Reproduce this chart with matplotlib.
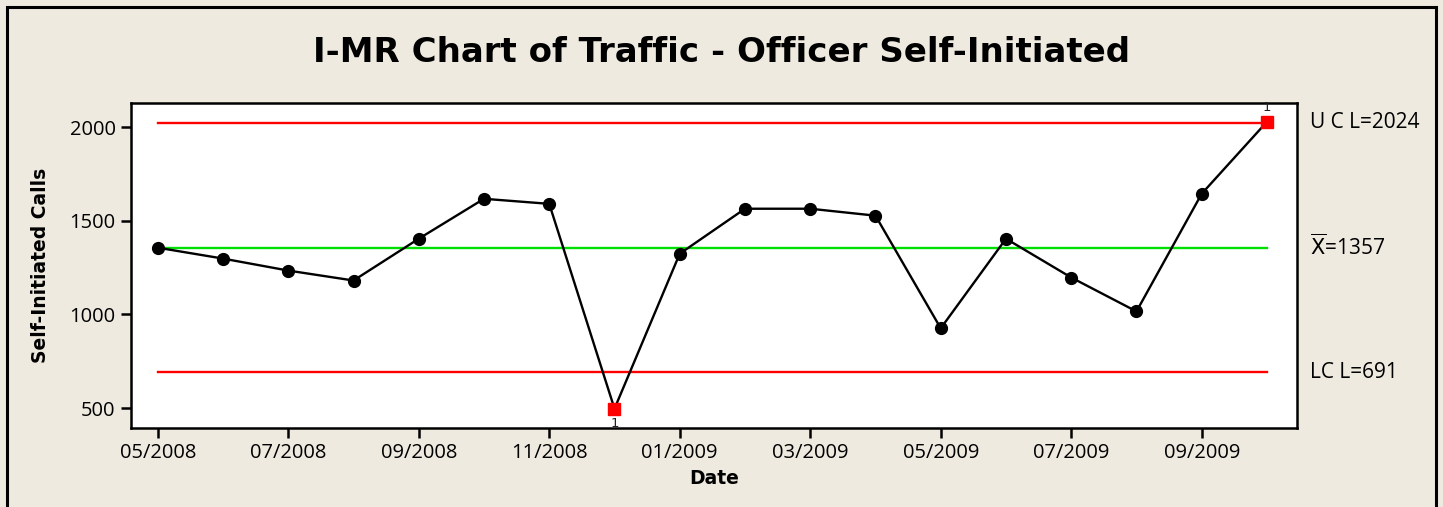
import numpy as np
import matplotlib.pyplot as plt
from matplotlib.patches import Rectangle

# monthly values, 05/2008 .. 10/2009
valores = [1356, 1298, 1234, 1181, 1404, 1617, 1590, 497, 1324, 1564,
           1564, 1527, 926, 1404, 1197, 1016, 1644, 2028]
etiquetas_x = ['05/2008', '07/2008', '09/2008', '11/2008', '01/2009',
               '03/2009', '05/2009', '07/2009', '09/2009']
media = 1357
ucl = 2024
lcl = 691

fondo = '#EEEAE0'
plt.rcParams['font.family'] = ['Open Sans', 'DejaVu Sans']

fig = plt.figure(figsize=(14.43, 5.07), dpi=100, facecolor=fondo)
ax = fig.add_axes([0.0908, 0.1558, 0.808, 0.641])
ax.set_facecolor('white')

n = len(valores)
x = np.arange(n)
y = np.array(valores)

ax.plot([0, n - 1], [ucl, ucl], color='#FF0000', lw=1.7, zorder=1)
ax.plot([0, n - 1], [lcl, lcl], color='#FF0000', lw=1.7, zorder=1)
ax.plot([0, n - 1], [media, media], color='#00E000', lw=1.7, zorder=1)

ax.plot(x, y, color='black', lw=1.7, zorder=2)
fuera = (y > ucl) | (y < lcl)
ax.plot(x[~fuera], y[~fuera], 'o', color='black', ms=8.5, zorder=3)
ax.plot(x[fuera], y[fuera], 's', color='#FF0000', ms=8, zorder=3)
for xi, yi in zip(x[fuera], y[fuera]):
    if yi > ucl:
        ax.text(xi, yi + 40, '1', ha='center', va='bottom', fontsize=9.5,
                color='#222222', family='DejaVu Sans', zorder=5, clip_on=False)
    else:
        ax.text(xi, yi - 45, '1', ha='center', va='top', fontsize=9.5,
                color='#222222', family='DejaVu Sans', zorder=5, clip_on=False)

ax.set_xlim(-0.41, 17.46)
ax.set_ylim(394, 2128)
ax.set_xticks(np.arange(0, n, 2))
ax.set_xticklabels(etiquetas_x)
ax.set_yticks([500, 1000, 1500, 2000])
ax.tick_params(axis='both', direction='out', length=7, width=1.8, labelsize=14.5, pad=4)
for s in ax.spines.values():
    s.set_linewidth(1.8)

ax.set_xlabel('Date', fontsize=13.5, fontweight='bold', family='DejaVu Sans', labelpad=4)
ax.set_ylabel('Self-Initiated Calls', fontsize=13.5, fontweight='bold', family='DejaVu Sans', labelpad=14)

trans = ax.get_yaxis_transform()
ax.text(1.011, ucl, 'U C L=2024', transform=trans, va='center', fontsize=15)
ax.text(1.011, media, r'$\overline{\mathrm{X}}$=1357', transform=trans, va='center', fontsize=15)
ax.text(1.011, lcl, 'LC L=691', transform=trans, va='center', fontsize=15)

fig.text(0.5, 0.897, 'I-MR Chart of Traffic - Officer Self-Initiated', ha='center', va='center',
         fontsize=24.5, fontweight='bold', family='DejaVu Sans')

fig.patches.append(Rectangle((7 / 1443, -0.05), 1429 / 1443, 1.05 - 7 / 507, transform=fig.transFigure,
                             fill=False, edgecolor='black', lw=2.2, clip_on=False))

fig.savefig('out.png', dpi=100, facecolor=fondo)
